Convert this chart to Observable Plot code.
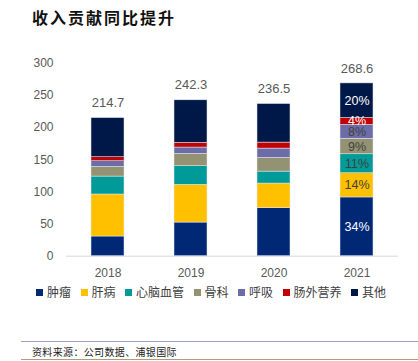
<!DOCTYPE html>
<html><head><meta charset="utf-8">
<script src="https://cdn.jsdelivr.net/npm/d3@7"></script>
<script src="https://cdn.jsdelivr.net/npm/@observablehq/plot@0.6"></script>
<style>
body{margin:0;background:#fff;width:418px;height:361px;overflow:hidden;position:relative;font-family:"Noto Sans CJK SC",sans-serif;}
#title{position:absolute;left:32px;top:6px;font-size:16px;font-weight:bold;letter-spacing:2px;color:#111;line-height:22px;}
#chart{position:absolute;left:0;top:40px;}
#legend{position:absolute;left:36px;top:284px;display:flex;font-size:12px;color:#404040;line-height:16px;}
#legend .it{display:flex;align-items:center;margin-right:9.5px;}
#legend .sw{width:7px;height:7px;margin-right:4px;}
#l1{position:absolute;left:21px;right:0;top:341px;border-top:1px solid #98A2C4;}
#src{position:absolute;left:32px;top:345px;font-size:10px;letter-spacing:0.35px;color:#222;line-height:14px;}
#l2{position:absolute;left:21px;right:0;top:359px;border-top:1px solid #A4A47C;}
</style></head>
<body>
<div id="title">收入贡献同比提升</div>
<div id="chart"></div>
<div id="legend"></div>
<div id="l1"></div>
<div id="src">资料来源：公司数据、浦银国际</div>
<div id="l2"></div>
<script>
const years = ["2018","2019","2020","2021"];
const categories = ["肿瘤","肝病","心脑血管","骨科","呼吸","肠外营养","其他"];
const colors = ["#002874","#FFC000","#009B98","#939373","#6C6CA8","#C00000","#001848"];
const totals = [214.7, 242.3, 236.5, 268.6];
const v肿瘤 = [30.6, 52.3, 74.6, 91.3];
const v肝病 = [65.3, 58.6, 38.3, 37.6];
const v心脑血管 = [27.9, 29.0, 18.6, 29.5];
const v骨科 = [15.0, 19.2, 21.2, 24.2];
const v呼吸 = [8.8, 9.8, 14.6, 21.5];
const v肠外营养 = [6.2, 7.3, 9.3, 10.8];
const v其他 = [60.9, 66.1, 59.9, 53.7];
const yTicks = [0, 50, 100, 150, 200, 250, 300];
const labelYear = "2021";
const whiteLabels = ["肿瘤","肠外营养","其他"];

const series = [v肿瘤, v肝病, v心脑血管, v骨科, v呼吸, v肠外营养, v其他];
const data = [];
categories.forEach((c, i) => years.forEach((y, j) => data.push({year: y, cat: c, value: series[i][j], total: totals[j]})));
const totData = years.map((y, j) => ({year: y, total: totals[j]}));
const lab = data.filter(d => d.year === labelYear);

const plot = Plot.plot({
  width: 418, height: 245,
  marginLeft: 66, marginRight: 20, marginTop: 22.7, marginBottom: 29.3,
  style: {fontFamily: "'Liberation Sans', sans-serif", fontSize: "12px", color: "#595959", background: "transparent"},
  x: {domain: years, paddingInner: 0.6, paddingOuter: 0.3, label: null, tickSize: 0, tickPadding: 12},
  y: {domain: [0, 300], ticks: yTicks, label: null, tickSize: 0, tickPadding: 13},
  color: {domain: categories, range: colors},
  marks: [
    Plot.ruleY([0], {stroke: "#D9D9D9"}),
    Plot.barY(data, {x: "year", y: "value", fill: "cat", order: categories, stroke: "#E8E8F0", strokeWidth: 0.5}),
    Plot.text(lab, Plot.stackY({x: "year", y: "value", z: "cat", order: categories,
      text: d => Math.round(d.value / d.total * 100) + "%",
      fill: d => whiteLabels.includes(d.cat) ? "#FFFFFF" : "#404040",
      fontSize: 12.5, fontFamily: "'Liberation Sans', sans-serif"})),
    Plot.text(totData, {x: "year", y: "total", text: d => d.total.toFixed(1), dy: -15, fontSize: 13, fill: "#595959"})
  ]
});
document.getElementById("chart").appendChild(plot);

const lg = document.getElementById("legend");
categories.forEach((c, i) => {
  const it = document.createElement("div"); it.className = "it";
  const sw = document.createElement("div"); sw.className = "sw"; sw.style.background = colors[i];
  const t = document.createElement("span"); t.textContent = c;
  it.appendChild(sw); it.appendChild(t); lg.appendChild(it);
});
</script>
</body></html>
